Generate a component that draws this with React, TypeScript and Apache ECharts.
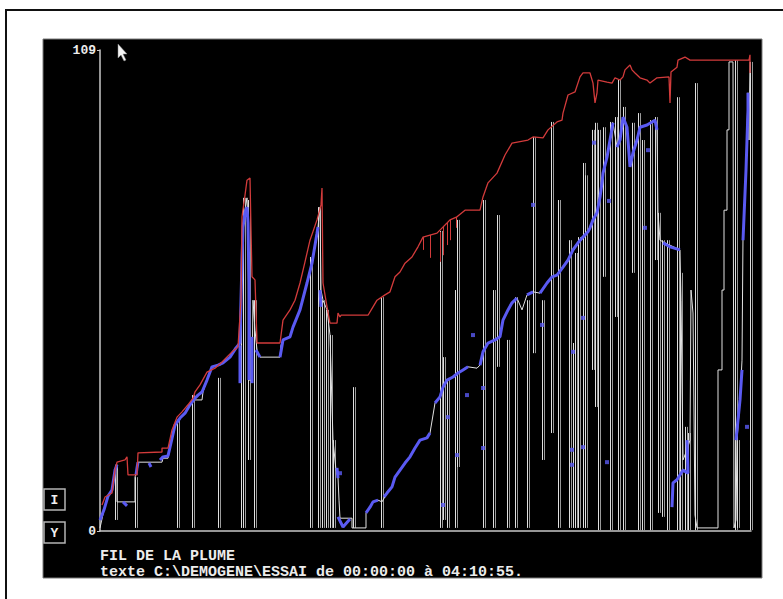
import React, { useEffect, useRef } from "react";
import * as echarts from "echarts";

// x = sample index (0..651) over 00:00:00 -> 04:10:55, y = pen value 0..109
const X_MAX = 651;
const yTicks = [0, 109];
const titleText = "FIL DE LA PLUME";
const subtitleText = "texte C:\\DEMOGENE\\ESSAI de 00:00:00 à 04:10:55.";
const sideButtons = ["I", "Y"];

// red envelope (running peak)
const redTrace: number[][] = [
  [2, 5.9], [5, 7.7], [12, 8.6], [15, 13.8], [17, 15.6], [25, 16.1], [27, 16.8], [28, 12.7], [37, 12.7],
  [38, 17.7], [62, 17.9], [62, 18.8], [68, 18.8], [72, 22.9], [77, 25.8], [82, 27.0], [88, 28.6],
  [93, 30.1], [95, 31.5], [100, 33.1], [107, 36.0], [115, 36.9], [122, 38.3], [132, 40.6], [138, 41.7],
  [141, 52.3], [142, 71.2], [145, 76.1], [147, 79.5], [150, 80.0], [151, 68.2], [152, 57.6], [155, 56.9],
  [157, 42.6], [180, 42.6], [183, 47.8], [190, 50.1], [195, 52.3], [200, 56.2], [205, 61.0], [210, 65.9],
  [217, 70.5], [221, 73.9], [222, 77.7], [223, 56.2], [227, 50.8], [230, 47.1], [237, 47.1], [238, 49.4],
  [240, 48.5], [241, 48.9], [268, 48.9], [273, 50.8], [277, 52.3], [285, 53.5], [290, 54.2], [295, 57.6],
  [300, 58.7], [305, 60.7], [312, 62.1], [318, 64.4], [323, 66.6], [337, 67.5], [347, 69.8], [350, 70.5],
  [357, 71.2], [365, 72.7], [380, 72.7], [383, 75.7], [388, 78.9], [397, 81.1], [405, 85.2], [412, 87.9],
  [428, 88.6], [433, 89.3], [443, 89.1], [448, 90.9], [457, 92.7], [462, 93.1], [463, 94.7], [468, 98.8],
  [475, 99.5], [480, 102.9], [483, 103.8], [490, 103.8], [493, 101.5], [495, 97.0], [497, 99.3],
  [498, 102.2], [507, 101.7], [512, 101.5], [515, 102.7], [520, 102.2], [523, 102.9], [525, 104.5],
  [530, 105.6], [532, 104.5], [535, 103.8], [540, 102.7], [547, 102.2], [550, 101.5], [557, 102.7],
  [569, 102.9], [570, 97.0], [571, 104.0], [577, 105.1], [578, 106.7], [585, 107.4], [590, 106.7],
  [649, 106.7], [650, 107.9], [650, 103.8],
];

// short red dips [x, top, bottom]
const redDips: number[][] = [
  [323, 66.6, 63.7], [330, 67.1, 61.9], [340, 67.8, 61.0], [343, 68.9, 62.5],
  [347, 69.8, 64.8], [350, 70.5, 65.9], [356, 71.2, 68.7],
];

// white pen trace
const whiteTrace: number[][] = [
  [0, 0.7], [4, 4.8], [8, 7.9], [12, 9.3], [15, 13.8], [17, 15.0], [17, 6.6], [35, 6.6], [35, 12.2],
  [37, 13.8], [38, 15.6], [62, 15.6], [63, 16.5], [68, 16.5], [70, 19.0], [75, 24.0], [80, 25.6],
  [85, 26.7], [90, 28.6], [95, 29.7], [102, 29.7], [103, 31.5], [107, 34.2], [112, 37.2], [120, 37.6],
  [125, 38.3], [130, 39.4], [136, 41.5], [140, 42.6], [141, 52.3], [142, 65.9], [144, 71.6], [147, 75.5],
  [148, 69.3], [149, 34.2], [152, 34.2], [153, 52.3], [155, 45.5], [157, 41.0], [160, 39.4], [180, 39.4],
  [181, 42.1], [183, 43.3], [190, 44.0], [193, 46.2], [200, 50.1], [207, 56.2], [212, 60.7], [217, 67.5],
  [218, 68.9], [220, 73.4], [221, 54.6], [223, 52.3], [227, 50.1], [230, 44.4], [233, 20.6], [236, 13.8],
  [238, 12.2], [239, 7.0], [240, 2.9], [252, 2.9], [252, 0.7], [266, 0.7], [266, 4.1], [270, 5.4],
  [273, 6.6], [278, 7.0], [282, 6.6], [287, 8.6], [292, 10.0], [295, 12.2], [300, 13.8], [305, 15.4],
  [310, 16.8], [315, 18.8], [320, 20.6], [327, 21.1], [330, 22.2], [335, 29.0], [340, 30.4], [343, 32.6],
  [347, 34.2], [353, 34.9], [358, 35.8], [363, 36.5], [368, 37.2], [377, 36.9], [380, 37.6], [383, 40.6],
  [388, 42.6], [395, 43.3], [400, 44.0], [403, 47.8], [408, 50.1], [412, 51.7], [417, 52.8], [422, 50.1],
  [427, 53.5], [433, 54.2], [440, 53.9], [447, 56.2], [452, 57.6], [457, 58.0], [463, 59.8], [468, 61.4],
  [473, 63.7], [478, 65.3], [483, 66.6], [488, 67.8], [490, 68.7], [493, 70.5], [497, 72.1], [500, 75.7],
  [502, 78.9], [503, 81.1], [507, 84.7], [510, 88.6], [513, 92.5], [517, 87.0], [520, 88.6], [523, 93.8],
  [527, 91.5], [530, 82.5], [533, 85.7], [537, 88.6], [540, 91.5], [547, 92.0], [555, 93.1], [557, 90.9],
  [558, 72.1], [560, 65.9], [565, 65.3], [580, 63.7], [581, 52.3], [583, 16.1], [587, 18.4], [590, 20.6],
  [591, 54.6], [593, 49.4], [595, 3.6], [597, 0.7], [618, 0.7], [618, 36.5], [622, 36.5], [622, 54.6],
  [624, 54.6], [624, 72.7], [627, 72.7], [627, 90.9], [629, 90.9], [629, 106.3], [633, 106.3], [634, 0.7],
  [636, 2.5], [637, 20.6], [640, 29.7], [642, 38.7], [643, 66.6], [646, 81.8], [648, 99.3], [649, 88.6],
  [650, 106.3],
];

// vertical pen strokes [x, top, bottom]
const whiteSpikes: number[][] = [
  [15, 15.0, 2.5], [35, 12.2, 0.7], [77, 25.2, 0.7], [92, 30.8, 0.7], [118, 34.7, 0.7],
  [141, 52.3, 0.7], [143, 75.5, 0.7], [148, 75.0, 16.1], [154, 52.3, 0.7], [210, 62.1, 0.7],
  [218, 73.4, 0.7], [222, 52.3, 0.7], [226, 50.1, 0.7], [230, 44.4, 0.7], [233, 20.6, 0.7],
  [253, 32.6, 0.7], [281, 53.0, 0.7], [340, 68.0, 0.7], [343, 39.4, 2.5], [347, 34.2, 0.7],
  [355, 54.6, 0.7], [357, 70.5, 14.5], [383, 75.0, 0.7], [393, 54.6, 0.7], [397, 71.6, 37.2],
  [407, 43.3, 0.7], [415, 53.0, 0.7], [427, 52.3, 0.7], [433, 89.3, 40.3], [442, 52.3, 16.1],
  [451, 92.7, 22.2], [458, 75.0, 0.7], [469, 65.9, 0.7], [473, 42.6, 0.7], [475, 63.0, 0.7],
  [478, 66.6, 0.7], [483, 83.4, 0.7], [485, 80.6, 0.7], [492, 90.9, 36.5], [495, 92.5, 28.1],
  [498, 90.9, 0.2], [503, 91.5, 57.6], [510, 92.7, 0.2], [515, 93.8, 48.5], [518, 102.2, 0.2],
  [523, 96.1, 0.2], [532, 92.5, 58.5], [538, 94.7, 0.2], [542, 88.6, 0.2], [550, 93.1, 0.2],
  [555, 93.8, 61.4], [558, 72.1, 4.1], [562, 65.9, 3.2], [567, 65.9, 0.2], [577, 98.3, 0.2],
  [580, 58.5, 0.2], [585, 23.6, 0.2], [588, 22.2, 0.2], [595, 101.5, 0.2], [635, 106.7, 0.2],
  [637, 20.6, 0.7], [650, 106.3, 0.2],
];

// blue (validated) trace, in separate runs
const blueSegments: number[][][] = [
  [[0, 2.5], [4, 4.8], [8, 7.9], [12, 9.3], [15, 13.8], [17, 15.0]],
  [[23, 6.6], [27, 5.7]],
  [[36, 12.7], [37, 14.3], [38, 15.6]],
  [[49, 15.4], [51, 14.5]],
  [[60, 16.1], [63, 16.8], [68, 17.0], [70, 19.0], [75, 24.0], [80, 25.6], [85, 26.7], [90, 28.6],
   [95, 30.1], [98, 30.8], [102, 31.5], [107, 34.2], [112, 37.2], [118, 37.6], [123, 38.1], [130, 39.4],
   [136, 41.5], [140, 42.6], [141, 52.3], [142, 61.4], [143, 68.9], [145, 72.1], [147, 73.4], [148, 69.8],
   [149, 56.2], [149, 34.2]],
  [[140, 42.1], [140, 33.5]],
  [[152, 44.0], [152, 33.5]],
  [[156, 41.0], [160, 39.4]],
  [[180, 39.4], [183, 43.3], [190, 44.0], [193, 46.2], [200, 50.1], [207, 56.2], [212, 60.7], [217, 67.5], [218, 68.9]],
  [[220, 54.6], [221, 50.8]],
  [[237, 14.3], [238, 12.0]],
  [[238, 3.2], [243, 0.9], [250, 2.7]],
  [[266, 4.1], [270, 5.4], [273, 6.6], [278, 7.0]],
  [[284, 7.7], [287, 8.6], [292, 10.0], [295, 12.2], [300, 13.8], [305, 15.4], [310, 16.8], [315, 18.8],
   [320, 20.6], [327, 21.1], [330, 22.2]],
  [[335, 29.0], [340, 30.4], [343, 32.6], [347, 34.2], [353, 34.9], [358, 35.8], [363, 36.5], [368, 37.2]],
  [[380, 37.6], [383, 40.6], [388, 42.6], [395, 43.3], [400, 44.0], [403, 47.8], [408, 50.1], [412, 51.7], [417, 52.8]],
  [[427, 53.5], [433, 54.2]],
  [[440, 53.9], [447, 56.2], [452, 57.6], [457, 58.0], [463, 59.8], [468, 61.4], [473, 63.7], [478, 65.3],
   [483, 66.6], [488, 67.8], [490, 68.7], [493, 70.5], [497, 72.1], [500, 75.7], [502, 78.9], [503, 81.1],
   [507, 84.7], [510, 88.6], [513, 92.5]],
  [[517, 87.0], [520, 88.6], [523, 93.8], [527, 91.5], [530, 82.5], [533, 85.7], [537, 88.6], [540, 91.5],
   [547, 92.0], [555, 93.1], [557, 90.9]],
  [[563, 65.3], [570, 64.4], [580, 63.7]],
  [[572, 5.4], [573, 10.9], [577, 11.6], [583, 13.8], [588, 13.1], [587, 20.6]],
  [[636, 20.6], [638, 25.2], [640, 29.7], [642, 36.5]],
  [[643, 65.9], [646, 81.8], [648, 95.4], [648, 99.3]],
];

const blueDots: number[][] = [
  [240, 13.1], [367, 30.8], [383, 32.4], [383, 18.8], [357, 17.2], [343, 5.9], [348, 25.8], [373, 44.4],
  [442, 46.7], [483, 48.3], [472, 18.4], [472, 15.0], [483, 19.0], [473, 40.6], [507, 15.6], [545, 68.7],
  [548, 86.3], [647, 23.6], [433, 73.9], [494, 88.0], [509, 74.8],
];

const RED = "#d23b3b";
const BLUE = "#5a5af2";
const MONO = "'Liberation Mono', 'DejaVu Sans Mono', monospace";

export default function App() {
  const ref = useRef<HTMLDivElement>(null);

  useEffect(() => {
    if (!ref.current) return;
    const chart = echarts.init(ref.current, undefined, { renderer: "svg" });

    const spikeRender = (color: string, color2: string | null) =>
      (_params: any, api: any) => {
        const x = api.value(0);
        const p1 = api.coord([x, api.value(1)]);
        const p2 = api.coord([x, api.value(2)]);
        const px = Math.round(p1[0]) + 0.5;
        const children: any[] = [
          { type: "line", shape: { x1: px, y1: p1[1], x2: px, y2: p2[1] }, style: { stroke: color, lineWidth: 1 } },
        ];
        if (color2) {
          children.push({ type: "line", shape: { x1: px + 2, y1: p1[1], x2: px + 2, y2: p2[1] }, style: { stroke: color2, lineWidth: 1 } });
        }
        return { type: "group", children };
      };

    const graphic: any[] = [
      { type: "rect", z: -100, shape: { x: 6, y: 10, width: 820, height: 620 }, style: { fill: "#ffffff", stroke: "#111", lineWidth: 2 } },
      { type: "rect", z: -99, shape: { x: 43, y: 39, width: 719, height: 539 }, style: { fill: "#000000", stroke: "#7a7a7a", lineWidth: 1 } },
      ...sideButtons.flatMap((label, i) => [
        { type: "rect", z: 10, shape: { x: 44, y: 489 + i * 33, width: 21, height: 21 }, style: { fill: "#000", stroke: "#b4b4b4", lineWidth: 1.5 } },
        { type: "text", z: 11, x: 54.5, y: 500 + i * 33, style: { text: label, fill: "#f0f0f0", font: `bold 13px ${MONO}`, align: "center", verticalAlign: "middle" } },
      ]),
      { type: "text", z: 11, x: 100, y: 556, style: { text: titleText, fill: "#ececec", font: `bold 15px ${MONO}`, align: "left", verticalAlign: "middle" } },
      { type: "text", z: 11, x: 100, y: 572, style: { text: subtitleText, fill: "#ececec", font: `bold 15px ${MONO}`, align: "left", verticalAlign: "middle" } },
      { type: "polygon", z: 11, shape: { points: [[118, 44], [118, 58], [121, 55], [124, 61], [126, 60], [123, 54], [127, 54]] }, style: { fill: "#f4f4f4", stroke: "#888", lineWidth: 0.5 } },
    ];

    const series: any[] = [
      {
        type: "custom", name: "spikes", z: 1, silent: true,
        renderItem: spikeRender("#e0e0e0", "#9a9a9a"),
        data: whiteSpikes,
      },
      {
        type: "line", name: "white", z: 2, silent: true, showSymbol: false,
        lineStyle: { color: "#e2e2e2", width: 1 }, data: whiteTrace,
      },
      ...blueSegments.map((seg, i) => ({
        type: "line", name: "blue" + i, z: 3, silent: true, showSymbol: false,
        lineStyle: { color: BLUE, width: 3 }, data: seg,
      })),
      {
        type: "scatter", name: "blueDots", z: 3, silent: true, symbol: "rect", symbolSize: 4,
        itemStyle: { color: BLUE }, data: blueDots,
      },
      {
        type: "line", name: "red", z: 5, silent: true, showSymbol: false,
        lineStyle: { color: RED, width: 1.3 }, data: redTrace,
      },
      {
        type: "custom", name: "redDips", z: 5, silent: true,
        renderItem: spikeRender(RED, null),
        data: redDips,
      },
    ];

    chart.setOption({
      animation: false,
      backgroundColor: "#ffffff",
      graphic,
      grid: { left: 100, top: 50, width: 651, height: 481, containLabel: false },
      xAxis: {
        type: "value", min: 0, max: X_MAX,
        axisLine: { show: true, lineStyle: { color: "#c8c8c8", width: 1.5 } },
        axisTick: { show: false }, axisLabel: { show: false }, splitLine: { show: false },
      },
      yAxis: {
        type: "value", min: yTicks[0], max: yTicks[1], interval: yTicks[1] - yTicks[0],
        axisLine: { show: true, lineStyle: { color: "#c8c8c8", width: 1.5 } },
        axisTick: { show: true, length: 3, lineStyle: { color: "#c8c8c8" } },
        axisLabel: {
          show: true, color: "#ececec", fontFamily: "Liberation Mono", fontWeight: "bold", fontSize: 13,
          margin: 4, verticalAlign: "middle", padding: [0, 0, 7, 0],
        },
        splitLine: { show: false },
      },
      series,
    });

    return () => chart.dispose();
  }, []);

  return <div ref={ref} style={{ position: "absolute", left: 0, top: 0, width: 783, height: 599 }} />;
}
